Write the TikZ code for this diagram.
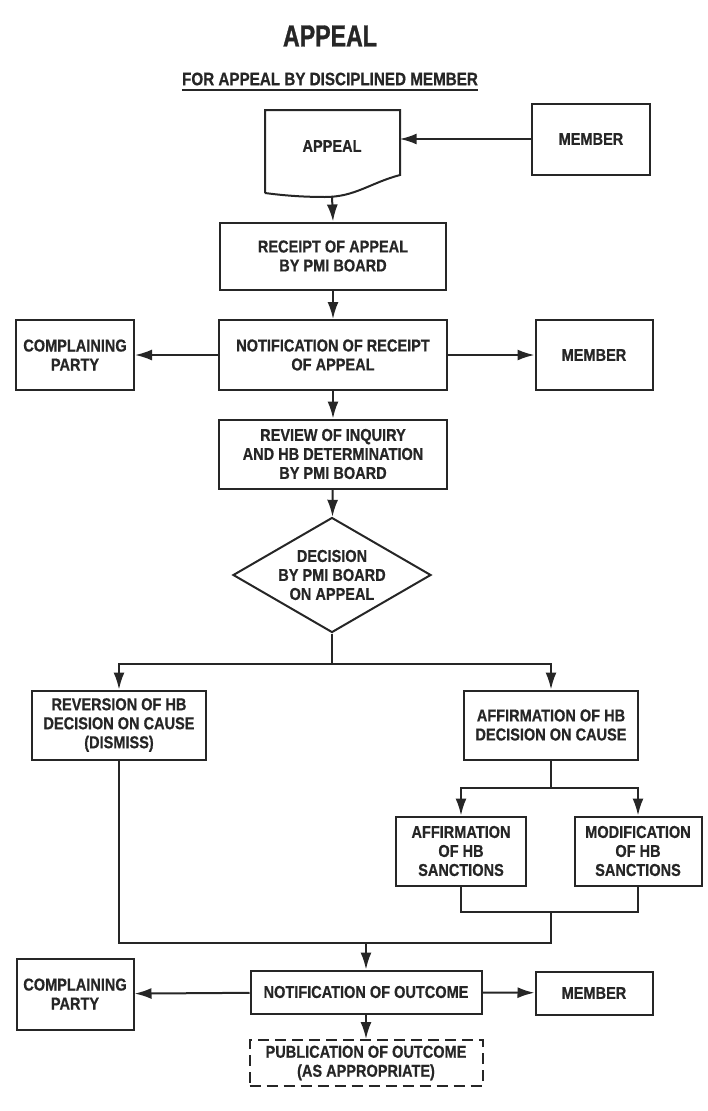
\documentclass[tikz,border=0pt]{standalone}
\usepackage{fontspec}
\setmainfont{Liberation Sans}[FakeStretch=0.845, BoldFeatures={FakeBold=0.7}]
\newfontfamily\titlefont{Liberation Sans}[FakeStretch=0.76, BoldFeatures={FakeBold=1}]
\usepackage{xcolor}
\usepackage{tikz}
\usetikzlibrary{arrows.meta,shapes.geometric}
\definecolor{ink}{RGB}{38,38,38}

\begin{document}
\begin{tikzpicture}[
  x=1pt, y=-1pt,
  font=\fontsize{17.2}{19}\selectfont\bfseries,
  every node/.style={text=ink},
  block/.style={draw=ink, line width=2pt, align=center, inner sep=2pt},
  decide/.style={draw=ink, line width=2pt, diamond, aspect=1.72, inner sep=0pt,
    minimum width=198pt, minimum height=115pt, align=center},
  link/.style={draw=ink, line width=2pt},
  arrow/.style={link, -{Latex[length=17pt,width=11pt]}}
]
\useasboundingbox (0,0) rectangle (708,1111);

% heading
\node (title) at (330,36) {\titlefont\bfseries\fontsize{30.5}{32}\selectfont APPEAL};
\node[inner xsep=0pt] (subtitle) at (330,79) {\fontsize{18}{19}\selectfont FOR APPEAL BY DISCIPLINED MEMBER};
\draw[link] ([yshift=-5pt]subtitle.base west) -- ([yshift=-5pt]subtitle.base east);

% document shape
\node[minimum width=135pt, minimum height=66pt] (appeal) at (332,146) {APPEAL};
\draw[link] (265,193) -- (265,110) -- (400,110) -- (400,175)
  .. controls (370,183) and (355,197) .. (325,197)
  .. controls (300,197) and (280,195) .. (265,193);
\coordinate (appealbot) at (332,196);

\node[block, minimum width=118pt, minimum height=71pt] (member1) at (591,139) {MEMBER};
\node[block, minimum width=226pt, minimum height=67pt] (receipt) at (333,256) {RECEIPT OF APPEAL\\BY PMI BOARD};
\node[block, minimum width=118pt, minimum height=70pt] (party1) at (75,355) {COMPLAINING\\PARTY};
\node[block, minimum width=228pt, minimum height=70pt] (notify) at (333,355) {NOTIFICATION OF RECEIPT\\OF APPEAL};
\node[block, minimum width=117pt, minimum height=70pt] (member2) at (594,355) {MEMBER};
\node[block, minimum width=228pt, minimum height=69pt] (review) at (333,454) {REVIEW OF INQUIRY\\AND HB DETERMINATION\\BY PMI BOARD};
\node[decide] (decision) at (332,575) {DECISION\\BY PMI BOARD\\ON APPEAL};

\node[block, minimum width=174pt, minimum height=69pt] (reverse) at (119,725) {REVERSION OF HB\\DECISION ON CAUSE\\(DISMISS)};
\node[block, minimum width=174pt, minimum height=69pt] (affirm) at (551,725) {AFFIRMATION OF HB\\DECISION ON CAUSE};
\node[block, minimum width=130pt, minimum height=69pt] (affsanc) at (461,851) {AFFIRMATION\\OF HB\\SANCTIONS};
\node[block, minimum width=127pt, minimum height=69pt] (modsanc) at (638,851) {MODIFICATION\\OF HB\\SANCTIONS};

\node[block, minimum width=117pt, minimum height=71pt] (party2) at (75,994) {COMPLAINING\\PARTY};
\node[block, minimum width=231pt, minimum height=43pt] (outcome) at (366,992) {NOTIFICATION OF OUTCOME};
\node[block, minimum width=117pt, minimum height=43pt] (member3) at (594,993) {MEMBER};
\node[block, dashed, dash pattern=on 11pt off 6pt, minimum width=233pt, minimum height=46pt] (publish) at (366,1063) {PUBLICATION OF OUTCOME\\(AS APPROPRIATE)};

% connectors
\draw[arrow] (member1.west) -- (appeal.east |- member1.west);
\draw[arrow] (appealbot) -- (receipt.north);
\draw[arrow] (receipt) -- (notify);
\draw[arrow] (notify) -- (party1);
\draw[arrow] (notify) -- (member2);
\draw[arrow] (notify) -- (review);
\draw[arrow] (review) -- (decision);
\draw[arrow] (decision.south) -- ++(0,30) -| (reverse.north);
\draw[arrow] (decision.south) -- ++(0,30) -| (affirm.north);
\draw[arrow] (affirm.south) -- ++(0,27) -| (affsanc.north);
\draw[arrow] (affirm.south) -- ++(0,27) -| (modsanc.north);

\coordinate (join1) at (551,912);
\coordinate (join2) at (366,943);
\draw[link] (affsanc.south) |- (join1) -| (modsanc.south);
\draw[link] (reverse.south) |- (join2) -| (join1);
\draw[arrow] (join2) -- (outcome.north);
\draw[arrow] (outcome) -- (party2);
\draw[arrow] (outcome) -- (member3);
\draw[arrow] (outcome) -- (publish);

\end{tikzpicture}
\end{document}
